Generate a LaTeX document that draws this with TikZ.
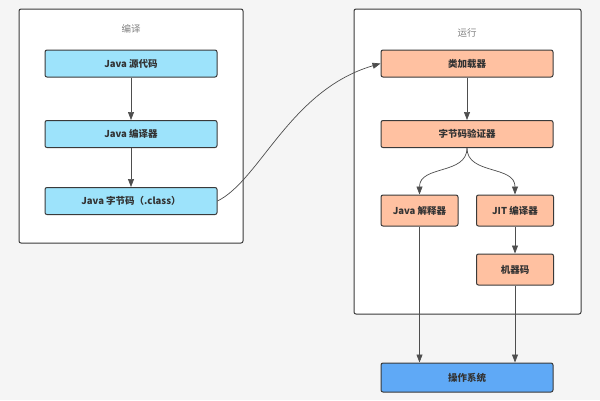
\documentclass[tikz,border=0pt]{standalone}
\usepackage{fontspec}
\setmainfont{Noto Sans CJK SC}
\usetikzlibrary{arrows.meta}
\definecolor{bg}{HTML}{F5F5F5}
\definecolor{edge}{HTML}{3A3A3A}
\definecolor{lblue}{HTML}{9DE3FB}
\definecolor{salmon}{HTML}{FFC1A1}
\definecolor{osblue}{HTML}{5FA9F6}
\definecolor{txt}{HTML}{333333}
\tikzset{
  panel/.style={draw=edge, line width=1pt, fill=white, rounded corners=2pt},
  box/.style={draw=edge, line width=1pt, rounded corners=2pt, font=\fontsize{9.5}{11}\selectfont\bfseries, text=txt, inner sep=0pt},
  cbox/.style={box, fill=lblue, minimum width=172pt, minimum height=27pt},
  rbox/.style={box, fill=salmon, minimum width=172pt, minimum height=27pt},
  sbox/.style={box, fill=salmon, minimum width=77pt, minimum height=31pt},
  osbox/.style={box, fill=osblue, minimum width=172pt, minimum height=29pt},
  ttl/.style={font=\fontsize{9.5}{11}\selectfont, text=gray},
  conn/.style={draw=edge!90, line width=0.7pt, -{Triangle[length=8pt,width=6pt]}},
}
\begin{document}
\begin{tikzpicture}[x=1pt,y=-1pt]
\fill[bg] (0,0) rectangle (600,400);
\useasboundingbox (0,0) rectangle (600,400);
% panels
\draw[panel] (19,9) rectangle (243,243);
\draw[panel] (354,9) rectangle (581,314);
\node[ttl] (t1) at (131,29) {编译};
\node[ttl] (t2) at (467,33) {运行};
% compile side
\node[cbox] (src) at (131,63.5) {Java 源代码};
\node[cbox] (jc) at (131,134) {Java 编译器};
\node[cbox] (bc) at (131,201) {Java 字节码（.class）};
% runtime side
\node[rbox] (cl) at (467,63.5) {类加载器};
\node[rbox] (bv) at (467,134) {字节码验证器};
\node[sbox] (ji) at (419.5,210.5) {Java 解释器};
\node[sbox] (jit) at (515,210.5) {JIT 编译器};
\node[sbox] (mc) at (515,269.5) {机器码};
\node[osbox] (os) at (467,377.5) {操作系统};
% connectors
\draw[conn] (src) -- (jc);
\draw[conn] (jc) -- (bc);
\draw[conn] (bc.east) .. controls (260,180) and (290,90) .. (cl.west);
\draw[conn] (cl) -- (bv);
\draw[conn] (bv.south) .. controls (467,175) and (419.5,165) .. (ji.north);
\draw[conn] (bv.south) .. controls (467,175) and (515,165) .. (jit.north);
\draw[conn] (jit) -- (mc);
\draw[conn] (ji.south) -- (ji.south |- os.north);
\draw[conn] (mc.south) -- (mc.south |- os.north);
\end{tikzpicture}
\end{document}
